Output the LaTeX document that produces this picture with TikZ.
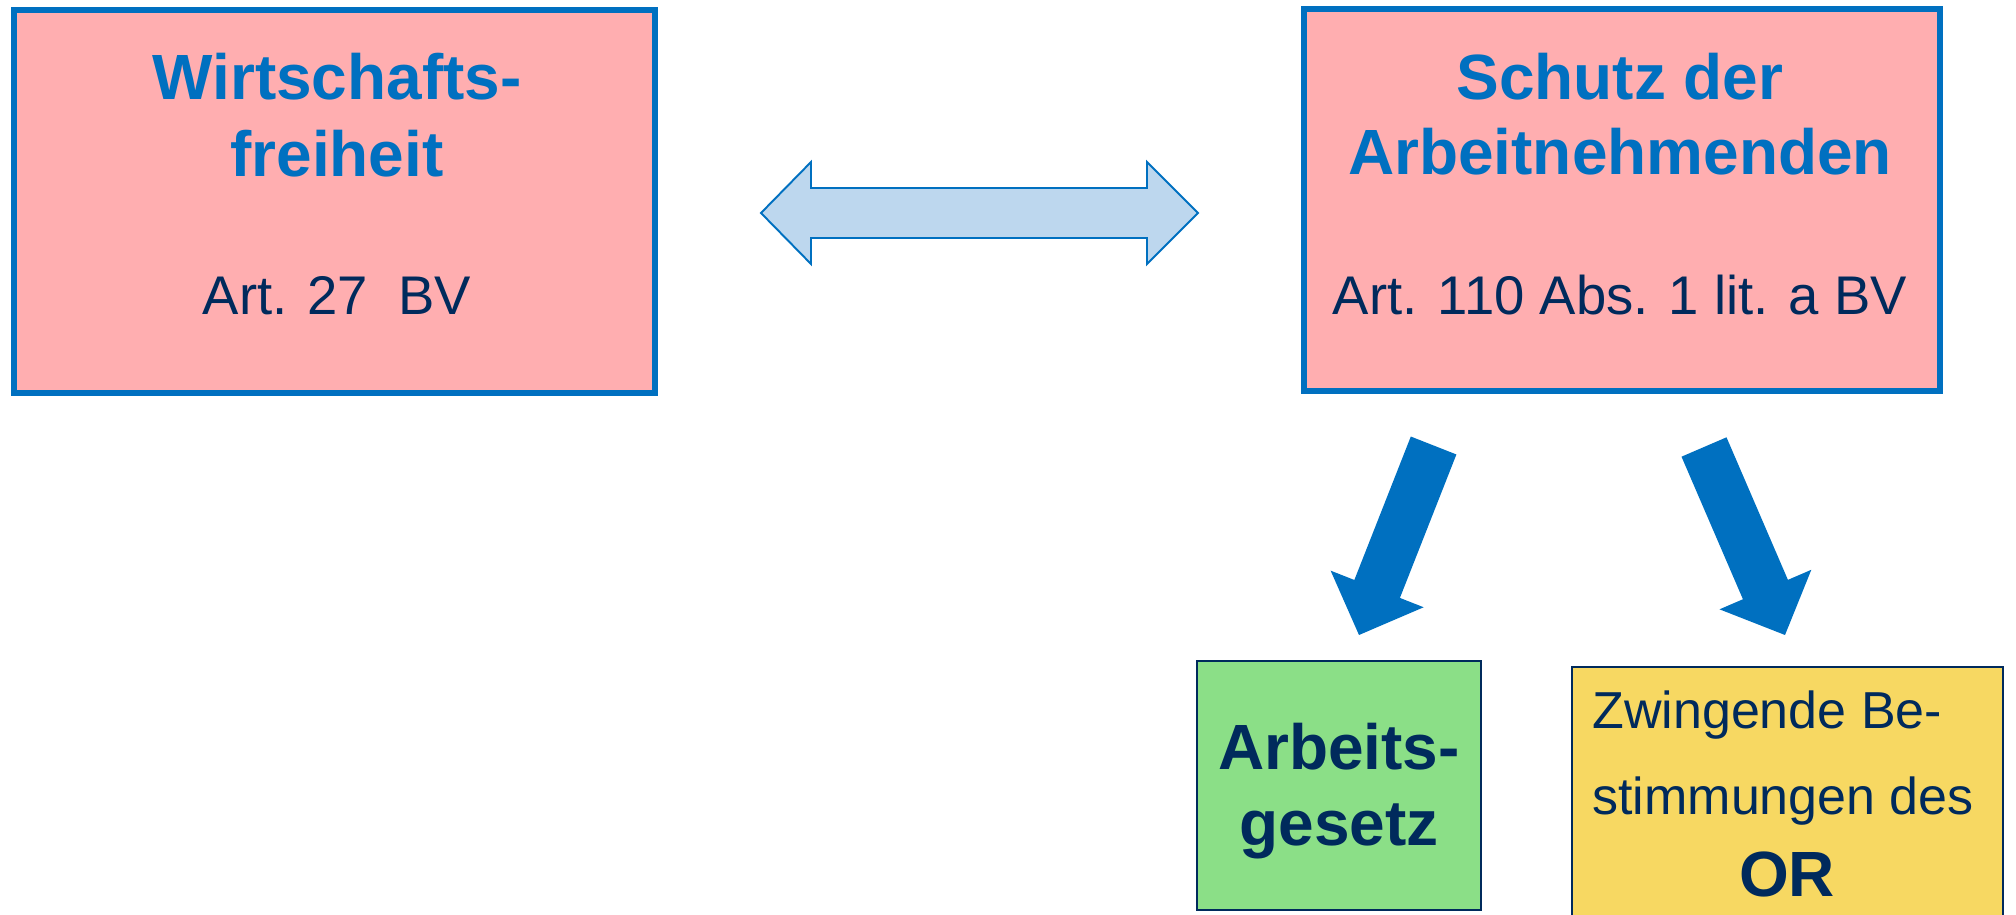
\documentclass[tikz,border=0pt]{standalone}
\usepackage{fontspec}
\setmainfont{Liberation Sans}
\usetikzlibrary{calc}
\definecolor{boxblue}{RGB}{0,112,192}
\definecolor{pinkfill}{RGB}{255,174,176}
\definecolor{navy}{RGB}{0,42,92}
\definecolor{lightblue}{RGB}{189,215,238}
\definecolor{greenfill}{RGB}{139,223,135}
\definecolor{yellowfill}{RGB}{247,216,98}
\newcommand\blockarrow[3]{%
  \path coordinate (ba-b) at ($(#2)!0.99cm!(#1)$);
  \fill[#3] ($(#1)!0.49cm!90:(#2)$) -- ($(ba-b)!0.49cm!90:(#2)$)
    -- ($(ba-b)!1.0cm!90:(#2)$) -- (#2) -- ($(ba-b)!1.0cm!-90:(#2)$)
    -- ($(ba-b)!0.49cm!-90:(#2)$) -- ($(#1)!0.49cm!-90:(#2)$) -- cycle;}
\begin{document}
\begin{tikzpicture}[x=0.02cm,y=-0.02cm,
  mainbox/.style={draw=boxblue,fill=pinkfill,line width=3.1pt,inner sep=0pt},
  lowbox/.style={draw=navy,line width=1.4pt,inner sep=0pt},
  bluebold/.style={anchor=base,inner sep=0pt,text=boxblue,font=\fontsize{36.4}{40}\selectfont\bfseries},
  navyreg/.style={anchor=base,inner sep=0pt,text=navy,font=\fontsize{31}{36}\selectfont},
  navybold/.style={anchor=base,inner sep=0pt,text=navy,font=\fontsize{36.4}{40}\selectfont\bfseries},
  yellowreg/.style={anchor=base west,inner sep=0pt,text=navy,font=\fontsize{29.6}{34}\selectfont},
  bigarrow/.style={fill=boxblue},
  dblarrow/.style={draw=boxblue,fill=lightblue,line width=1.1pt,line join=miter}]
\useasboundingbox (0,0) rectangle (2016,915);
\clip (0,0) rectangle (2016,915);
% main boxes
\node[mainbox,minimum width=12.82cm,minimum height=7.66cm] (wf) at (334.5,201.5) {};
\node[mainbox,minimum width=12.72cm,minimum height=7.64cm] (sa) at (1622,200) {};
\node[bluebold] (wf1) at (337,100) {Wirtschafts-};
\node[bluebold] (wf2) at (337,177) {freiheit};
\node[navyreg] (wf3) at (337,315) {Art. 27\ \ BV};
\node[bluebold] (sa1) at (1620,100) {Schutz der};
\node[bluebold] (sa2) at (1620,175) {Arbeitnehmenden};
\node[navyreg] (sa3) at (1620,315) {Art. 110 Abs. 1 lit. a BV};
% double arrow
\draw[dblarrow] (761,213) -- (811,162) -- (811,188) -- (1147,188) -- (1147,162)
  -- (1198,213) -- (1147,264) -- (1147,238) -- (811,238) -- (811,264) -- cycle;
% lower boxes
\node[lowbox,fill=greenfill,minimum width=5.68cm,minimum height=4.98cm] (ag) at (1339,785.5) {};
\node[lowbox,fill=yellowfill,minimum width=8.62cm,minimum height=5.26cm] (or) at (1787.5,798.5) {};
\node[navybold] (ag1) at (1339,769) {Arbeits-};
\node[navybold] (ag2) at (1339,845) {gesetz};
\node[yellowreg] (or1) at (1592,728) {Zwingende Be-};
\node[yellowreg] (or2) at (1592,814) {stimmungen des};
\node[navybold] (or3) at (1787,896) {OR};
% block arrows
\coordinate (a1tail) at (1433.6,445.5);
\coordinate (a1tip) at (1359,635);
\coordinate (a2tail) at (1704,447);
\coordinate (a2tip) at (1785,635);
\blockarrow{a1tail}{a1tip}{bigarrow}
\blockarrow{a2tail}{a2tip}{bigarrow}
\end{tikzpicture}
\end{document}
